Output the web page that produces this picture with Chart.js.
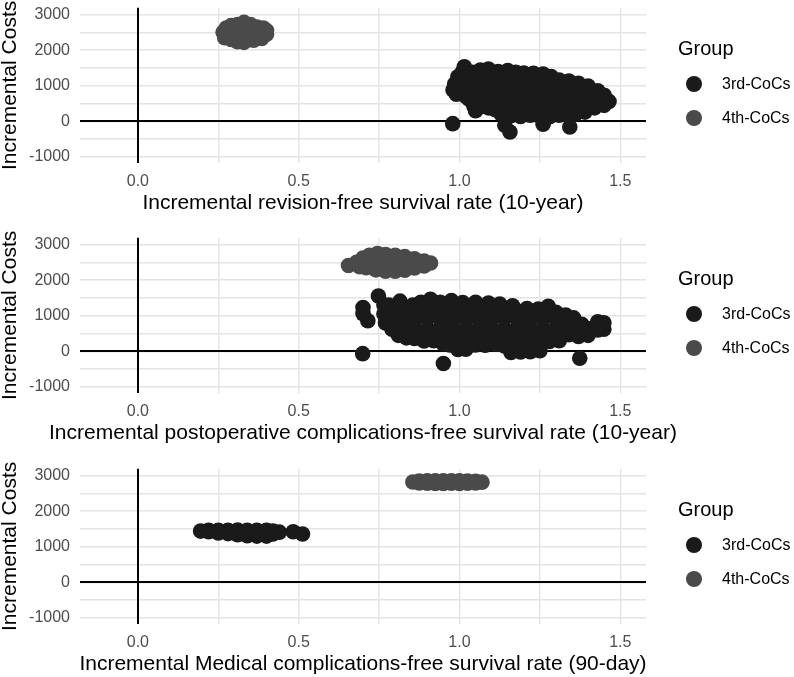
<!DOCTYPE html>
<html><head><meta charset="utf-8">
<script src="https://cdn.jsdelivr.net/npm/chart.js@4"></script>
<style>
html,body{margin:0;padding:0;overflow:hidden;background:#fff;}
#wrap{position:relative;width:794px;height:677px;overflow:hidden;font-family:"Liberation Sans",Arial,sans-serif;}
.panel{position:absolute;left:0;width:794px;height:231px;}
.panel canvas{position:absolute;left:0;top:0;}
.lg-title{position:absolute;left:678px;top:38px;font-size:20px;line-height:20px;color:#000;white-space:nowrap;}
.lg-dot{position:absolute;left:686px;width:16px;height:16px;border-radius:50%;}
.lg-lab{position:absolute;left:722px;font-size:16px;line-height:16px;color:#000;white-space:nowrap;}
</style></head>
<body>
<div id="wrap"></div>
<script>
// ---- data ----
const groupNames = ['3rd-CoCs', '4th-CoCs'];
const legendTitle = 'Group';
const yTitle = 'Incremental Costs';
const xTitles = [
  'Incremental revision-free survival rate (10-year)',
  'Incremental postoperative complications-free survival rate (10-year)',
  'Incremental Medical complications-free survival rate (90-day)'
];
const xTickValues = [0, 0.25, 0.5, 0.75, 1, 1.25, 1.5];
const xTickLabels = ['0.0', '', '0.5', '', '1.0', '', '1.5'];
const yTickValues = [-1000, -500, 0, 500, 1000, 1500, 2000, 2500, 3000];
const yTickLabels = ['-1000', '', '0', '', '1000', '', '2000', '', '3000'];

// Panel 1: revision-free survival
const p1_3rd = [
[0.979,-65],[0.98,880],[0.985,1050],[0.99,760],[0.995,1250],[1.01,1400],[1.015,1530],
[1.04,1380],[1.065,1440],[1.09,1470],[1.12,1400],[1.15,1430],[1.175,1380],[1.20,1360],[1.23,1350],[1.26,1330],[1.285,1260],[1.31,1160],[1.34,1130],[1.37,1070],[1.40,990],[1.43,860],[1.45,730],[1.465,560],[1.45,450],[1.42,380],[1.39,260],[1.36,200],
[1.03,620],[1.045,420],[1.05,300],[1.07,420],[1.09,380],[1.11,330],[1.13,200],[1.16,160],[1.19,140],[1.22,170],[1.25,140],[1.28,130],[1.31,170],[1.34,150],
[1.141,-110],[1.157,-300],[1.26,-83],[1.343,-160],
[1.02,1200],[1.06,1210],[1.10,1190],[1.14,1220],[1.18,1200],[1.22,1180],[1.26,1190],
[1.00,950],[1.04,960],[1.08,940],[1.12,970],[1.16,950],[1.20,930],[1.24,960],[1.28,950],[1.32,940],[1.36,930],
[1.02,700],[1.06,710],[1.10,690],[1.14,720],[1.18,700],[1.22,680],[1.26,710],[1.30,700],[1.34,690],[1.38,720],[1.42,680],
[1.08,450],[1.12,460],[1.16,440],[1.20,470],[1.24,450],[1.28,430],[1.32,460],[1.36,450],[1.40,440]
];
const p1_4th = [
[0.265,2500],[0.27,2350],[0.275,2620],[0.29,2690],[0.31,2720],[0.33,2780],[0.35,2720],[0.37,2650],[0.39,2620],[0.40,2550],[0.40,2450],[0.385,2330],[0.36,2280],[0.33,2220],[0.31,2240],[0.29,2300],[0.30,2450],[0.33,2500],[0.36,2480],[0.35,2600],[0.31,2600],[0.37,2400],[0.33,2360]
];

// Panel 2: postoperative complications-free survival
const p2_3rd = [
[0.699,-65],[0.70,1230],[0.70,1060],[0.715,860],[0.748,1555],
[0.765,1300],[0.765,1050],[0.77,800],
[0.78,1300],[0.815,1410],[0.855,1300],[0.88,1380],[0.91,1460],[0.94,1380],[0.975,1430],[1.01,1370],[1.05,1380],[1.09,1360],[1.125,1330],[1.165,1280],[1.21,1200],[1.245,1190],[1.276,1264],[1.30,1100],[1.33,1020],[1.355,940],[1.38,760],[1.40,640],
[1.43,830],[1.449,800],[1.449,620],[1.43,600],
[0.79,620],[0.81,450],[0.835,380],[0.86,360],[0.89,290],[0.92,300],[0.95,200],[0.97,180],[0.995,50],[1.02,60],[1.05,180],[1.08,190],[1.11,200],[1.14,150],[1.16,-30],[1.19,-20],[1.22,-10],[1.25,20],[1.28,280],[1.31,300],[1.34,470],[1.37,420],[1.40,450],
[0.95,-340],[1.374,-195],
[0.79,1150],[0.83,1160],[0.87,1140],[0.91,1170],[0.95,1150],[0.99,1130],[1.03,1160],[1.07,1150],[1.11,1140],[1.15,1160],[1.19,1120],[1.23,1100],[1.27,1080],
[0.78,900],[0.82,910],[0.86,890],[0.90,920],[0.94,900],[0.98,880],[1.02,910],[1.06,900],[1.10,890],[1.14,920],[1.18,900],[1.22,880],[1.26,910],[1.30,900],[1.34,880],
[0.82,650],[0.86,660],[0.90,640],[0.94,670],[0.98,650],[1.02,630],[1.06,660],[1.10,650],[1.14,640],[1.18,670],[1.22,650],[1.26,630],[1.30,660],[1.34,650],[1.38,620],
[0.88,400],[0.92,410],[0.96,390],[1.00,420],[1.04,400],[1.08,380],[1.12,410],[1.16,400],[1.20,390],[1.24,420],[1.28,400],
[1.00,180],[1.04,190],[1.08,170],[1.12,200],[1.16,180],[1.20,160],[1.24,190]
];
const p2_4th = [
[0.655,2410],[0.68,2500],[0.70,2620],[0.72,2700],[0.745,2750],[0.77,2720],[0.80,2700],[0.83,2660],[0.86,2600],[0.89,2540],[0.91,2480],[0.89,2400],[0.86,2340],[0.83,2280],[0.80,2250],[0.77,2250],[0.74,2290],[0.71,2350],[0.69,2380],[0.73,2500],[0.77,2480],[0.81,2480],[0.85,2470],[0.78,2600],[0.74,2620],[0.82,2580],[0.70,2470]
];

// Panel 3: medical complications-free survival
const p3_3rd = [
[0.195,1440],[0.22,1460],[0.22,1420],[0.25,1465],[0.25,1390],[0.28,1465],[0.28,1370],[0.31,1470],[0.31,1340],[0.34,1465],[0.34,1310],[0.37,1465],[0.37,1300],[0.40,1460],[0.40,1300],[0.42,1440],[0.42,1360],[0.44,1410],[0.483,1420],[0.512,1360],[0.33,1390],[0.38,1380]
];
const p3_4th = [
[0.855,2820],[0.875,2845],[0.875,2790],[0.90,2850],[0.90,2785],[0.925,2850],[0.925,2780],[0.95,2850],[0.95,2780],[0.975,2850],[0.975,2785],[1.0,2850],[1.0,2780],[1.025,2845],[1.025,2785],[1.05,2840],[1.05,2790],[1.07,2815]
];

const panels = [
  {top: 0,   xTitle: xTitles[0], g3: p1_3rd, g4: p1_4th},
  {top: 230, xTitle: xTitles[1], g3: p2_3rd, g4: p2_4th},
  {top: 461, xTitle: xTitles[2], g3: p3_3rd, g4: p3_4th}
];
const colors = ['#1a1a1a', '#4a4a4a'];
const FONT = "'Liberation Sans', Arial, sans-serif";
Chart.defaults.font.family = FONT;

const wrap = document.getElementById('wrap');
const toXY = arr => arr.map(p => ({x: p[0], y: p[1]}));

// reference lines at x = 0 and y = 0, drawn through the scales
const zeroLines = {
  id: 'zeroLines',
  beforeDatasetsDraw(chart) {
    const {ctx, chartArea: a, scales: {x, y}} = chart;
    const px = Math.round(x.getPixelForValue(0));
    const py = Math.round(y.getPixelForValue(0));
    ctx.save();
    ctx.strokeStyle = '#000';
    ctx.lineWidth = 2;
    ctx.beginPath();
    ctx.moveTo(px, a.top); ctx.lineTo(px, a.bottom);
    ctx.moveTo(a.left, py); ctx.lineTo(a.right, py);
    ctx.stroke();
    ctx.restore();
  }
};

// axis titles (drawn without Chart.js's width-squeezing)
const axisTitles = {
  id: 'axisTitles',
  afterDraw(chart, args, opts) {
    const {ctx, chartArea: a} = chart;
    ctx.save();
    ctx.fillStyle = '#000';
    ctx.font = '21px ' + FONT;
    ctx.textAlign = 'center';
    ctx.textBaseline = 'middle';
    ctx.fillText(opts.x, (a.left + a.right) / 2, a.bottom + 40);
    ctx.translate(10, (a.top + a.bottom) / 2);
    ctx.rotate(-Math.PI / 2);
    ctx.fillText(opts.y, 0, 0);
    ctx.restore();
  }
};

const noPad = s => { s.paddingTop = 0; s.paddingBottom = 0; s.paddingLeft = 0; s.paddingRight = 0; };

panels.forEach(pn => {
  const div = document.createElement('div');
  div.className = 'panel';
  div.style.top = pn.top + 'px';
  const cv = document.createElement('canvas');
  cv.width = 794; cv.height = 231;
  cv.style.width = '794px'; cv.style.height = '231px';
  div.appendChild(cv);

  const t = document.createElement('div');
  t.className = 'lg-title'; t.textContent = legendTitle;
  div.appendChild(t);
  groupNames.forEach((g, i) => {
    const d = document.createElement('div');
    d.className = 'lg-dot';
    d.style.top = (76 + i * 34) + 'px';
    d.style.background = colors[i];
    div.appendChild(d);
    const l = document.createElement('div');
    l.className = 'lg-lab';
    l.style.top = (76 + i * 34) + 'px';
    l.textContent = g;
    div.appendChild(l);
  });
  wrap.appendChild(div);

  new Chart(cv, {
    type: 'scatter',
    data: {
      datasets: [
        {label: groupNames[0], data: toXY(pn.g3), backgroundColor: colors[0], borderWidth: 0, pointRadius: 7.8, pointHoverRadius: 7.8},
        {label: groupNames[1], data: toXY(pn.g4), backgroundColor: colors[1], borderWidth: 0, pointRadius: 7.8, pointHoverRadius: 7.8}
      ]
    },
    plugins: [zeroLines, axisTitles],
    options: {
      responsive: false,
      animation: false,
      events: [],
      layout: {padding: {left: 0, top: 6, right: 148, bottom: 0}},
      plugins: {legend: {display: false}, tooltip: {enabled: false}, axisTitles: {x: pn.xTitle, y: yTitle}},
      scales: {
        x: {
          type: 'linear', min: -0.18, max: 1.58,
          afterBuildTicks: s => { s.ticks = xTickValues.map(v => ({value: v})); },
          afterFit: s => { s.height = 68; noPad(s); },
          ticks: {callback: (v, i) => xTickLabels[i], font: {size: 16}, color: '#4d4d4d', padding: 9, maxRotation: 0, autoSkip: false},
          grid: {color: '#e4e4e4', lineWidth: 1.4, drawTicks: false},
          border: {display: false},
          title: {display: false}
        },
        y: {
          type: 'linear', min: -1170, max: 3190,
          afterBuildTicks: s => { s.ticks = yTickValues.map(v => ({value: v})); },
          afterFit: s => { s.width = 80; noPad(s); },
          ticks: {callback: (v, i) => yTickLabels[i], font: {size: 16}, color: '#4d4d4d', padding: 10, autoSkip: false},
          grid: {color: '#e4e4e4', lineWidth: 1.4, drawTicks: false},
          border: {display: false},
          title: {display: false}
        }
      }
    }
  });
});
</script>
</body></html>
